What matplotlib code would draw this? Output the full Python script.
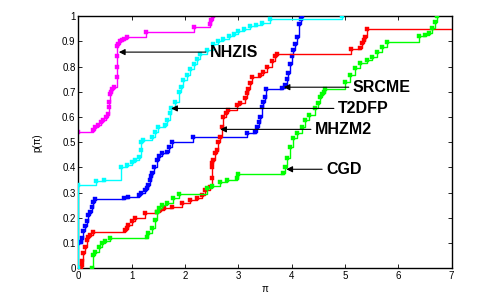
import matplotlib
matplotlib.use("Agg")
import matplotlib.pyplot as plt

plt.rcParams['font.family'] = ['Liberation Sans', 'DejaVu Sans']

# ---- data (performance profiles) ----
nhzis_x = [0, 0.28, 0.31, 0.36, 0.42, 0.47, 0.51, 0.55, 0.57, 0.58, 0.60, 0.61, 0.64, 0.66,
           0.73, 0.73, 0.73, 0.73, 0.75, 0.78, 0.82, 0.86, 0.92, 1.26, 2.16, 2.46, 2.49, 2.52]
nhzis_y = [0.54, 0.55, 0.56, 0.57, 0.58, 0.59, 0.60, 0.61, 0.64, 0.66, 0.69, 0.70, 0.71, 0.72,
           0.76, 0.80, 0.84, 0.88, 0.89, 0.90, 0.905, 0.91, 0.915, 0.935, 0.955, 0.97, 0.985, 1.0]

t2dfp_x = [0, 0, 0.33, 0.48, 0.80, 0.91, 1.0, 1.06, 1.13, 1.17, 1.17, 1.22, 1.38, 1.44, 1.50,
           1.62, 1.67, 1.72, 1.74, 1.81, 1.88, 1.92, 1.97, 2.03, 2.10, 2.16, 2.22, 2.28, 2.41,
           2.53, 2.62, 2.72, 2.82, 2.91, 3.00, 3.10, 3.22, 3.34, 3.44, 3.60, 4.95]
t2dfp_y = [0, 0.33, 0.345, 0.35, 0.40, 0.41, 0.42, 0.43, 0.44, 0.47, 0.50, 0.51, 0.52, 0.54, 0.56,
           0.57, 0.59, 0.615, 0.635, 0.66, 0.70, 0.72, 0.745, 0.765, 0.79, 0.81, 0.83, 0.85, 0.865,
           0.89, 0.90, 0.91, 0.92, 0.93, 0.94, 0.95, 0.96, 0.965, 0.973, 0.99, 1.0]

srcme_x = [0, 0.045, 0.06, 0.09, 0.12, 0.16, 0.19, 0.22, 0.25, 0.28, 0.31, 0.85, 0.94, 1.13, 1.18,
           1.25, 1.28, 1.31, 1.34, 1.36, 1.38, 1.41, 1.47, 1.52, 1.56, 1.66, 1.70, 1.75, 2.15, 3.16,
           3.31, 3.35, 3.38, 3.41, 3.44, 3.47, 3.50, 3.52, 3.82, 3.88, 3.91, 3.94, 3.97, 4.00, 4.03,
           4.07, 4.10, 4.13, 4.17, 4.19]
srcme_y = [0.10, 0.106, 0.12, 0.15, 0.17, 0.19, 0.21, 0.225, 0.245, 0.265, 0.275, 0.28, 0.285, 0.29, 0.30,
           0.31, 0.32, 0.33, 0.35, 0.365, 0.38, 0.40, 0.43, 0.445, 0.456, 0.463, 0.48, 0.50, 0.52, 0.535,
           0.54, 0.56, 0.58, 0.60, 0.64, 0.66, 0.68, 0.71, 0.715, 0.727, 0.75, 0.773, 0.81, 0.84, 0.865,
           0.89, 0.918, 0.97, 0.99, 1.0]

mhzm2_x = [0.05, 0.06, 0.07, 0.09, 0.13, 0.16, 0.19, 0.22, 0.28, 0.88, 0.91, 0.94, 1.0, 1.06, 1.25,
           1.47, 1.53, 1.60, 1.75, 1.94, 2.10, 2.22, 2.31, 2.38, 2.46, 2.50, 2.50, 2.50, 2.53, 2.56,
           2.60, 2.62, 2.65, 2.69, 2.72, 2.76, 2.81, 2.97, 3.03, 3.13, 3.16, 3.19, 3.22, 3.25, 3.41,
           3.47, 3.53, 3.63, 3.69, 3.72, 5.12, 5.29, 5.32, 5.35, 5.38, 5.42, 7.0]
mhzm2_y = [0.0, 0.014, 0.03, 0.06, 0.086, 0.113, 0.125, 0.133, 0.146, 0.152, 0.162, 0.172, 0.19, 0.20, 0.22,
           0.225, 0.232, 0.24, 0.245, 0.258, 0.271, 0.278, 0.291, 0.31, 0.324, 0.36, 0.40, 0.417, 0.43, 0.456,
           0.47, 0.50, 0.52, 0.56, 0.60, 0.615, 0.628, 0.648, 0.654, 0.674, 0.694, 0.71, 0.733, 0.76, 0.766,
           0.78, 0.80, 0.82, 0.84, 0.85, 0.868, 0.875, 0.892, 0.905, 0.918, 0.948, 0.948]

cgd_x = [0.26, 0.27, 0.31, 0.38, 0.44, 0.50, 0.59, 1.28, 1.31, 1.38, 1.44, 1.47, 1.52, 1.56, 1.66,
         1.78, 1.88, 2.41, 2.50, 2.66, 2.78, 2.98, 3.0, 3.83, 3.88, 3.91, 3.97, 4.03, 4.10, 4.19,
         4.25, 4.32, 4.44, 4.50, 4.53, 4.57, 4.60, 4.63, 5.0, 5.1, 5.19, 5.29, 5.41, 5.5, 5.6,
         5.69, 5.79, 6.38, 6.5, 6.57, 6.63, 6.69, 6.72]
cgd_y = [0.0, 0.053, 0.067, 0.086, 0.10, 0.109, 0.12, 0.125, 0.139, 0.159, 0.192, 0.225, 0.24, 0.251, 0.258,
         0.278, 0.295, 0.318, 0.327, 0.344, 0.35, 0.357, 0.375, 0.377, 0.403, 0.436, 0.48, 0.516, 0.535, 0.562,
         0.588, 0.608, 0.634, 0.654, 0.68, 0.69, 0.70, 0.711, 0.74, 0.766, 0.793, 0.812, 0.826, 0.839, 0.859,
         0.878, 0.898, 0.92, 0.925, 0.931, 0.951, 0.977, 1.0]

labels = ['NHZIS', 'T2DFP', 'SRCME', 'MHZM2', 'CGD']
colors = ['#ff00ff', '#00ffff', '#0000ff', '#ff0000', '#00ff00']
# (text x, text y, arrow-tip x)
ann_text_x = [2.47, 4.87, 5.15, 4.44, 4.65]
ann_y = [0.857, 0.634, 0.718, 0.551, 0.393]
ann_tip_x = [0.76, 1.74, 3.85, 2.66, 3.90]

fig = plt.figure(figsize=(4.97, 2.98), dpi=100)
ax = fig.add_axes([0.1576, 0.0990, 0.7511, 0.8473])

series = [(nhzis_x, nhzis_y), (t2dfp_x, t2dfp_y), (srcme_x, srcme_y), (mhzm2_x, mhzm2_y), (cgd_x, cgd_y)]
zorders = [2, 6, 3, 4, 5]
for (xs, ys), c, z in zip(series, colors, zorders):
    # last point of a curve that runs to the right edge carries no marker
    n = len(xs)
    mk = list(range(n - 1)) if xs[-1] >= 7 else list(range(n))
    ax.plot(xs, ys, drawstyle='steps-post', color=c, lw=1.0, zorder=z,
            marker='s', ms=2.6, mec=c, mfc=c, mew=0.3, markevery=mk)

for lab, tx, ty, px in zip(labels, ann_text_x, ann_y, ann_tip_x):
    ax.annotate(lab, xy=(px, ty), xytext=(tx, ty), textcoords='data',
                ha='left', va='center', fontsize=11.5, fontweight='bold',
                arrowprops=dict(arrowstyle='-|>', color='black', lw=0.8,
                                mutation_scale=9, relpos=(0, 0.5),
                                shrinkA=1, shrinkB=0),
                zorder=10)

ax.set_xlim(0, 7)
ax.set_ylim(0, 1)
ax.set_xticks(range(0, 8))
ax.set_xticklabels([str(i) for i in range(0, 8)])
yt = [i / 10 for i in range(11)]
ax.set_yticks(yt)
ax.set_yticklabels(['0', '0.1', '0.2', '0.3', '0.4', '0.5', '0.6', '0.7', '0.8', '0.9', '1'])
ax.tick_params(direction='in', top=True, right=True, labelsize=7, length=3, width=0.6, pad=2)
for s in ax.spines.values():
    s.set_linewidth(1.0)
ax.set_xlabel('π', fontsize=7, labelpad=2)
ax.set_ylabel('p(π)', fontsize=7, labelpad=14)

fig.savefig('out.png', dpi=100)
